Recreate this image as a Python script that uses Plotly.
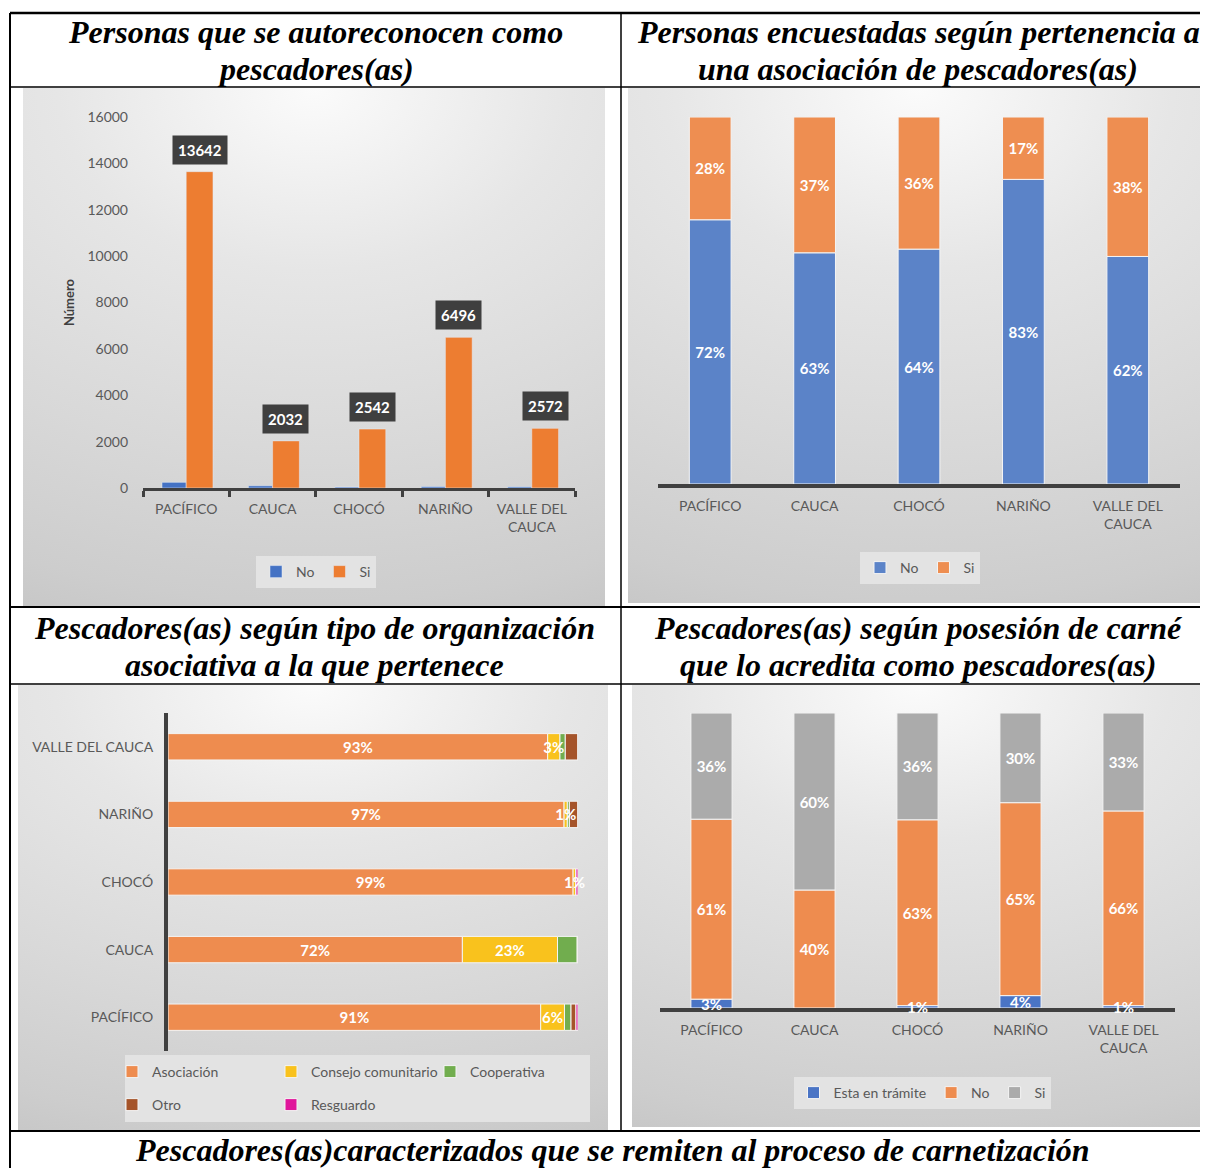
import numpy as np
import plotly.graph_objects as go

# page body has an 8px margin: the figure is placed at (8, 8) in a 1208x1168 window
OFF = 8
FW, FH = 1208 - OFF, 1168 - OFF

# ---------------- DATA ----------------
regions = ["PACÍFICO", "CAUCA", "CHOCÓ", "NARIÑO", "VALLE DEL CAUCA"]
region_ticks = ["PACÍFICO", "CAUCA", "CHOCÓ", "NARIÑO", "VALLE DEL<br>CAUCA"]

# Panel 1: personas que se autoreconocen como pescadores(as)
p1_no = [245, 95, 40, 60, 50]
p1_si = [13642, 2032, 2542, 6496, 2572]

# Panel 2: pertenencia a una asociación (%)
p2_no = [72, 63, 64, 83, 62]
p2_si = [28, 37, 36, 17, 38]

# Panel 3: tipo de organización asociativa (%)
p3_asociacion = [90.9, 71.8, 98.8, 96.6, 92.6]
p3_consejo = [5.8, 23.2, 0.7, 0.8, 3.0]
p3_cooperativa = [1.6, 4.8, 0.0, 0.5, 1.3]
p3_otro = [1.2, 0.2, 0.0, 2.1, 3.1]
p3_resguardo = [0.5, 0.0, 0.5, 0.0, 0.0]

# Panel 4: posesión de carné (%)
p4_tramite = [3.0, 0.0, 0.8, 4.2, 0.8]
p4_no = [61.0, 40.0, 63.0, 65.4, 66.0]
p4_si = [36.0, 60.0, 36.2, 30.4, 33.2]

title_lines = [
    ("Personas que se autoreconocen como", 315, 32),
    ("pescadores(as)", 315, 69),
    ("Personas encuestadas según pertenencia a", 918, 32),
    ("una asociación de pescadores(as)", 918, 69),
    ("Pescadores(as) según tipo de organización", 314, 628),
    ("asociativa a la que pertenece", 314, 665),
    ("Pescadores(as) según posesión de carné", 918, 628),
    ("que lo acredita como pescadores(as)", 918, 665),
    ("Pescadores(as)caracterizados que se remiten al proceso de carnetización", 612, 1150),
]

# ---------------- HELPERS ----------------
def px_x(v):
    return (v - OFF) / FW

def px_y(v):
    return 1 - (v - OFF) / FH

FONT = "Lato"
TICK_COLOR = "#595959"
AXIS_DARK = "#404040"

def pct(vals):
    return [f"{int(round(v))}%" if v > 0 else "" for v in vals]

fig = go.Figure()

# ---------------- PANEL BACKGROUNDS (radial gradient) ----------------
panels = [
    (23, 605, 88, 606),
    (628, 1208, 88, 603),
    (18, 608, 685, 1130),
    (632, 1205, 685, 1127),
]
grad = [[0, "#fbfbfb"], [0.22, "#e6e6e6"], [0.45, "#d8d8d8"], [0.62, "#cdcdcd"],
        [0.72, "#c3c3c3"], [1, "#b8b8b8"]]
for k in range(4):
    sfx = "" if k == 0 else str(k + 1)
    fig.add_trace(go.Scatter(
        x=[-1.5, 2.5, 2.5, -1.5, -1.5], y=[-0.6, -0.6, 2.6, 2.6, -0.6],
        mode="lines", fill="toself", line=dict(width=0),
        fillgradient=dict(type="radial", colorscale=grad),
        hoverinfo="skip", showlegend=False,
        xaxis="x" + sfx, yaxis="y" + sfx))

lbl_font = dict(family=FONT, size=15, color="white", weight="bold")
seg_line = dict(color="#f4f4f4", width=1)

# ---------------- PANEL 1 ----------------
fig.add_trace(go.Bar(x=regions, y=p1_no, name="No", marker=dict(color="#4472C4"),
                     width=0.28, offset=-0.28, xaxis="x5", yaxis="y5", legend="legend"))
fig.add_trace(go.Bar(x=regions, y=p1_si, name="Si", marker=dict(color="#ED7D31"),
                     width=0.31, offset=0.0, xaxis="x5", yaxis="y5", legend="legend"))

# ---------------- PANEL 2 ----------------
base2 = np.cumsum([[0] * 5, p2_no], axis=0)
for vals, name, col, b in [(p2_no, "No", "#5B83C8", base2[0]), (p2_si, "Si", "#EE8E51", base2[1])]:
    fig.add_trace(go.Bar(x=regions, y=vals, base=list(b), name=name,
                         marker=dict(color=col, line=seg_line),
                         width=0.4, offset=-0.2, text=pct(vals), textposition="inside",
                         insidetextanchor="middle", textangle=0, constraintext="none",
                         cliponaxis=False,
                         textfont=lbl_font, xaxis="x6", yaxis="y6", legend="legend2"))

# ---------------- PANEL 3 ----------------
p3_series = [
    ("Asociación", p3_asociacion, "#EE8C4F", True, "legend3"),
    ("Consejo comunitario", p3_consejo, "#F9C21D", True, "legend3"),
    ("Cooperativa", p3_cooperativa, "#71AD4E", False, "legend3"),
    ("Otro", p3_otro, "#A5542A", False, "legend4"),
    ("Resguardo", p3_resguardo, "#E0169B", False, "legend4"),
]
cum3 = np.zeros(5)
p3_labels = []
for name, vals, col, lab, lg in p3_series:
    fig.add_trace(go.Bar(y=regions, x=vals, base=list(cum3), orientation="h", name=name,
                         marker=dict(color=col, line=seg_line),
                         width=0.39, offset=-0.195, xaxis="x7", yaxis="y7", legend=lg))
    if lab:
        p3_labels.append((vals, list(cum3)))
    cum3 = cum3 + np.array(vals)
# labels drawn on top of all segments
for vals, b in p3_labels:
    fig.add_trace(go.Bar(y=regions, x=vals, base=b, orientation="h",
                         marker=dict(color="rgba(0,0,0,0)", line=dict(width=0)),
                         width=0.39, offset=-0.195, text=pct(vals), textposition="inside",
                         insidetextanchor="middle", textangle=0, constraintext="none",
                         cliponaxis=False, textfont=lbl_font, showlegend=False,
                         hoverinfo="skip", xaxis="x7", yaxis="y7"))

# ---------------- PANEL 4 ----------------
p4_series = [
    ("Esta en trámite", p4_tramite, "#4A74C5"),
    ("No", p4_no, "#EE8C4F"),
    ("Si", p4_si, "#ABABAB"),
]
cum4 = np.zeros(5)
p4_labels = []
for name, vals, col in p4_series:
    fig.add_trace(go.Bar(x=regions, y=vals, base=list(cum4), name=name,
                         marker=dict(color=col, line=seg_line),
                         width=0.4, offset=-0.2, xaxis="x8", yaxis="y8", legend="legend5"))
    p4_labels.append((vals, list(cum4)))
    cum4 = cum4 + np.array(vals)
for vals, b in p4_labels:
    fig.add_trace(go.Bar(x=regions, y=vals, base=b,
                         marker=dict(color="rgba(0,0,0,0)", line=dict(width=0)),
                         width=0.4, offset=-0.2, text=pct(vals), textposition="inside",
                         insidetextanchor="middle", textangle=0, constraintext="none",
                         cliponaxis=False, textfont=lbl_font, showlegend=False,
                         hoverinfo="skip", xaxis="x8", yaxis="y8"))

# ---------------- AXES ----------------
layout = dict(
    width=FW, height=FH, margin=dict(l=0, r=0, t=0, b=0, autoexpand=False),
    paper_bgcolor="white", plot_bgcolor="rgba(0,0,0,0)",
    barmode="group", showlegend=True,
    font=dict(family=FONT, size=14, color=TICK_COLOR),
)
for k, (x0, x1, y0, y1) in enumerate(panels):
    sfx = "" if k == 0 else str(k + 1)
    layout["xaxis" + sfx] = dict(domain=[px_x(x0), min(1, px_x(x1))], range=[0, 1], visible=False,
                                 anchor="y" + sfx, fixedrange=True, automargin=False)
    layout["yaxis" + sfx] = dict(domain=[px_y(y1), px_y(y0)], range=[0, 1], visible=False,
                                 anchor="x" + sfx, fixedrange=True, automargin=False)

tickfont = dict(family=FONT, size=14, color=TICK_COLOR)

layout["xaxis5"] = dict(domain=[px_x(143), px_x(575)], anchor="y5", type="category",
                        categoryorder="array", categoryarray=regions, automargin=False,
                        range=[-0.5, 4.5], showline=True, linecolor=AXIS_DARK, linewidth=3,
                        ticks="outside", tickson="boundaries", ticklen=6, tickwidth=3,
                        tickcolor=AXIS_DARK, tickvals=regions, ticktext=region_ticks,
                        tickfont=tickfont, showgrid=False, zeroline=False, ticklabelstandoff=6)
layout["yaxis5"] = dict(domain=[px_y(488), px_y(117)], anchor="x5", range=[0, 16000],
                        dtick=2000, tickformat="d", showgrid=False, zeroline=False,
                        showline=False, automargin=False,
                        tickfont=tickfont, ticklabelstandoff=14,
                        title=dict(text="Número", standoff=9,
                                   font=dict(family=FONT, size=13, color=AXIS_DARK, weight="bold")))

layout["xaxis6"] = dict(domain=[px_x(658), px_x(1180)], anchor="y6", type="category",
                        categoryorder="array", categoryarray=regions, automargin=False,
                        range=[-0.5, 4.5], showline=True, linecolor=AXIS_DARK, linewidth=4,
                        ticks="", tickvals=regions, ticktext=region_ticks, tickfont=tickfont,
                        showgrid=False, zeroline=False, ticklabelstandoff=6)
layout["yaxis6"] = dict(domain=[px_y(484), px_y(117)], anchor="x6", range=[0, 100],
                        visible=False, automargin=False)

layout["xaxis7"] = dict(domain=[px_x(168), px_x(578)], anchor="y7", range=[0, 100],
                        visible=False, automargin=False)
layout["yaxis7"] = dict(domain=[px_y(1051), px_y(713)], anchor="x7", type="category",
                        categoryorder="array", categoryarray=regions, automargin=False,
                        range=[-0.5, 4.5], showline=True, linecolor=AXIS_DARK, linewidth=4,
                        ticks="", tickfont=tickfont, ticklabelstandoff=8,
                        showgrid=False, zeroline=False)

layout["xaxis8"] = dict(domain=[px_x(660), px_x(1175)], anchor="y8", type="category",
                        categoryorder="array", categoryarray=regions, automargin=False,
                        range=[-0.5, 4.5], showline=True, linecolor=AXIS_DARK, linewidth=4,
                        layer="below traces",
                        ticks="", tickvals=regions, ticktext=region_ticks, tickfont=tickfont,
                        showgrid=False, zeroline=False, ticklabelstandoff=6)
layout["yaxis8"] = dict(domain=[px_y(1008), px_y(713)], anchor="x8", range=[0, 100],
                        visible=False, automargin=False)

# ---------------- LEGENDS ----------------
legfont = dict(family=FONT, size=14, color=TICK_COLOR)
layout["legend"] = dict(orientation="h", x=px_x(316), y=px_y(572), xanchor="center",
                        yanchor="middle", bgcolor="#e3e3e3", font=legfont, itemwidth=30,
                        traceorder="normal")
layout["legend2"] = dict(orientation="h", x=px_x(920), y=px_y(568), xanchor="center",
                         yanchor="middle", bgcolor="#e3e3e3", font=legfont, itemwidth=30,
                         traceorder="normal")
layout["legend3"] = dict(orientation="h", x=px_x(112), y=px_y(1072), xanchor="left",
                         yanchor="middle", bgcolor="rgba(0,0,0,0)", font=legfont, itemwidth=30,
                         entrywidth=114, entrywidthmode="pixels", traceorder="normal")
layout["legend4"] = dict(orientation="h", x=px_x(112), y=px_y(1105), xanchor="left",
                         yanchor="middle", bgcolor="rgba(0,0,0,0)", font=legfont, itemwidth=30,
                         entrywidth=114, entrywidthmode="pixels", traceorder="normal")
layout["legend5"] = dict(orientation="h", x=px_x(922), y=px_y(1093), xanchor="center",
                         yanchor="middle", bgcolor="#e3e3e3", font=legfont, itemwidth=30,
                         traceorder="normal")

# ---------------- SHAPES (table grid, legend box) ----------------
shapes = []
def hline(y, x0=10, x1=1208, w=2):
    shapes.append(dict(type="line", xref="paper", yref="paper", x0=px_x(x0), x1=px_x(x1),
                       y0=px_y(y), y1=px_y(y), line=dict(color="black", width=w)))
def vline(x, y0, y1, w=2):
    shapes.append(dict(type="line", xref="paper", yref="paper", x0=px_x(x), x1=px_x(x),
                       y0=px_y(y0), y1=px_y(y1), line=dict(color="black", width=w)))
hline(13, w=2.5)
hline(87, w=1.5)
hline(607, w=2)
hline(684, w=1.5)
hline(1131, w=2)
vline(10, 13, 1168, w=2)
vline(621, 13, 1131, w=1.5)
shapes.append(dict(type="rect", xref="paper", yref="paper", x0=px_x(125), x1=px_x(590),
                   y0=px_y(1122), y1=px_y(1055), fillcolor="#e3e3e3", line=dict(width=0),
                   layer="above"))
layout["shapes"] = shapes

# ---------------- ANNOTATIONS ----------------
ann = []
tfont = dict(family="Liberation Serif", size=32, color="black", weight="bold", style="italic")
for txt, cx, cy in title_lines:
    ann.append(dict(text=txt, x=px_x(cx), y=px_y(cy), xref="paper", yref="paper",
                    showarrow=False, font=tfont, xanchor="center", yanchor="middle"))

# data label boxes for panel 1 (Si)
for i, v in enumerate(p1_si):
    ann.append(dict(text=f"{v}", x=i + 0.155, y=v, xref="x5", yref="y5", showarrow=False,
                    yanchor="bottom", yshift=7, bgcolor="#3f3f3f", borderpad=5,
                    font=dict(family=FONT, size=15, color="white", weight="bold")))
layout["annotations"] = ann

fig.update_layout(**layout)
fig.write_html("out.html")
